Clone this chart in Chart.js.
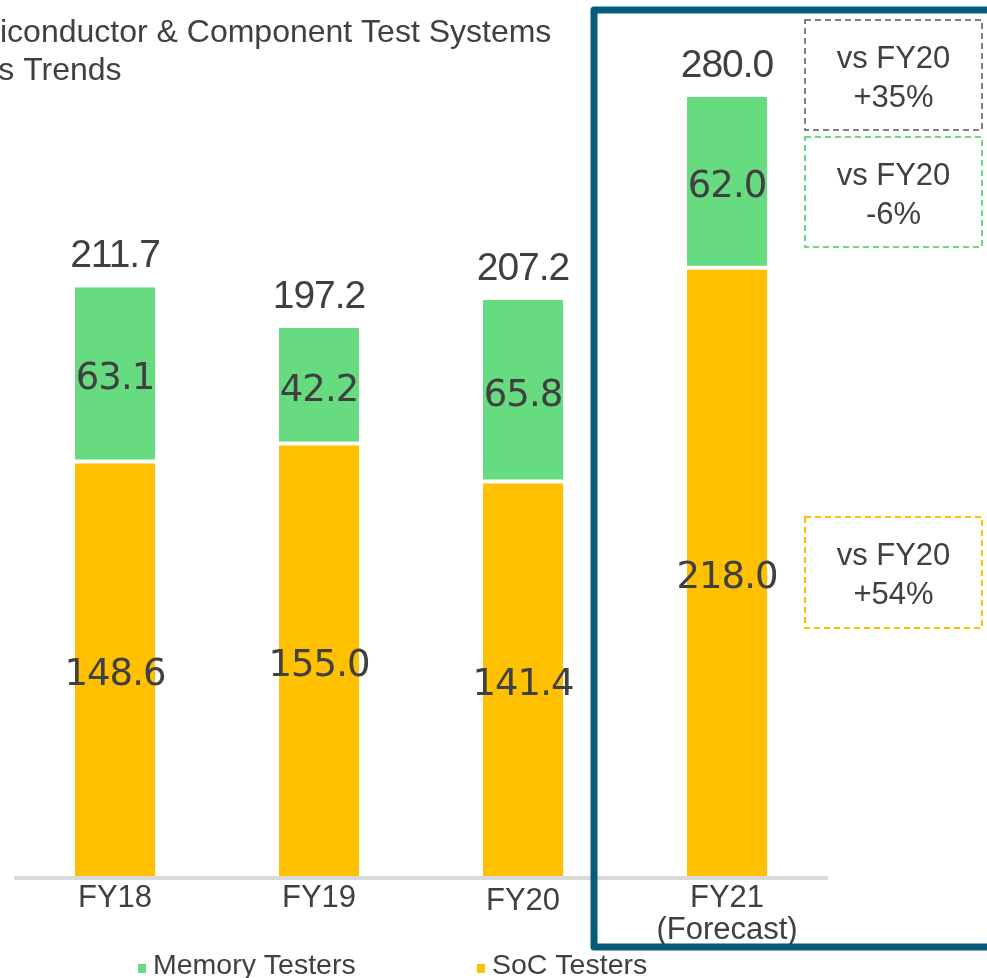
<!DOCTYPE html>
<html lang="en">
<head>
  <meta charset="UTF-8" />
  <title>Semiconductor & Component Test Systems Sales Trends</title>
  <style>
    html, body { margin: 0; padding: 0; background: #fff; overflow: hidden; }
    #wrap { width: 987px; height: 978px; position: relative; }
  </style>
</head>
<body>
  <div id="wrap"><canvas id="salesChart" width="987" height="978"></canvas></div>

  <script src="https://cdn.jsdelivr.net/npm/chart.js"></script>
  <script>
    // data
    const years = ['FY18', 'FY19', 'FY20', 'FY21'];
    const yearLabels = [['FY18'], ['FY19'], ['FY20'], ['FY21', '(Forecast)']];
    const socTesters = [148.6, 155.0, 141.4, 218.0];
    const memoryTesters = [63.1, 42.2, 65.8, 62.0];
    const totals = [211.7, 197.2, 207.2, 280.0];
    const compareNotes = [
      { lines: ['vs FY20', '+35%'], color: '#7f7f7f' },
      { lines: ['vs FY20', '-6%'], color: '#66db80' },
      { lines: ['vs FY20', '+54%'], color: '#ffc000' }
    ];

    const TEXT = '#404040';
    const ORANGE = '#ffc000';
    const GREEN = '#66db80';
    const SANS = '"Liberation Sans", Arial, sans-serif';
    const DEJA = '"DejaVu Sans", Verdana, sans-serif';

    function text(ctx, str, x, y, font, align, spacing) {
      ctx.save();
      ctx.font = font;
      ctx.fillStyle = TEXT;
      ctx.textAlign = align || 'center';
      ctx.textBaseline = 'alphabetic';
      ctx.letterSpacing = spacing || '0px';
      ctx.fillText(str, x, y);
      ctx.restore();
    }

    const decorations = {
      id: 'decorations',
      afterDatasetsDraw(chart) {
        const ctx = chart.ctx;
        const x = chart.scales.x;
        const y = chart.scales.y;

        // base line
        ctx.save();
        ctx.strokeStyle = '#d9d9d9';
        ctx.lineWidth = 4;
        ctx.beginPath();
        ctx.moveTo(14, y.getPixelForValue(0));
        ctx.lineTo(828, y.getPixelForValue(0));
        ctx.stroke();
        ctx.restore();

        // values inside and above the bars
        years.forEach((yr, i) => {
          const cx = x.getPixelForValue(i);
          const b0 = y.getPixelForValue(0);
          const b1 = y.getPixelForValue(socTesters[i]);
          const b2 = y.getPixelForValue(socTesters[i] + memoryTesters[i]);
          text(ctx, socTesters[i].toFixed(1), cx, (b0 + b1) / 2 + 14, '37px ' + DEJA, 'center', '-1px');
          text(ctx, memoryTesters[i].toFixed(1), cx, (b1 + b2) / 2 + 14, '37px ' + DEJA, 'center', '-1px');
          text(ctx, totals[i].toFixed(1), cx, b2 - 20, '39px ' + SANS, 'center', '-1px');

          // category labels
          yearLabels[i].forEach((l, k) => {
            text(ctx, l, cx, 907 + (i === 2 ? 3 : 0) + k * 32, '31px ' + SANS);
          });
        });

        // title (left part runs off the picture)
        ctx.save();
        ctx.font = '32px ' + SANS;
        const off = ctx.measureText('Sem').width;
        ctx.restore();
        text(ctx, 'Semiconductor & Component Test Systems', -off, 42, '32px ' + SANS, 'left');
        text(ctx, 'Sales Trends', -off, 80, '32px ' + SANS, 'left');

        // forecast frame
        ctx.save();
        ctx.strokeStyle = '#075b7a';
        ctx.lineWidth = 7;
        ctx.lineJoin = 'round';
        ctx.strokeRect(594, 10, 420, 937);
        ctx.restore();

        // comparison boxes
        const boxes = [[805, 20, 177, 110], [805, 137, 177, 110], [805, 517, 177, 111]];
        compareNotes.forEach((n, k) => {
          const [bx, by, bw, bh] = boxes[k];
          ctx.save();
          ctx.strokeStyle = n.color;
          ctx.lineWidth = 2;
          ctx.setLineDash([6, 4]);
          ctx.strokeRect(bx, by, bw, bh);
          ctx.restore();
          text(ctx, n.lines[0], bx + bw / 2, by + 48, '31px ' + SANS);
          text(ctx, n.lines[1], bx + bw / 2, by + 87, '31px ' + SANS);
        });

        // legend
        const legend = [
          { label: 'Memory Testers', color: GREEN, x: 138 },
          { label: 'SoC Testers', color: ORANGE, x: 477 }
        ];
        legend.forEach(l => {
          ctx.fillStyle = l.color;
          ctx.fillRect(l.x, 964, 8, 9);
          text(ctx, l.label, l.x + 15, 974, '28.5px ' + SANS, 'left');
        });
      }
    };

    new Chart(document.getElementById('salesChart'), {
      type: 'bar',
      data: {
        labels: years,
        datasets: [
          {
            label: 'SoC Testers',
            data: socTesters,
            backgroundColor: ORANGE,
            borderWidth: 0
          },
          {
            label: 'Memory Testers',
            data: memoryTesters,
            backgroundColor: GREEN,
            borderColor: '#ffffff',
            borderWidth: { top: 0, left: 0, right: 0, bottom: 4 },
            borderSkipped: false
          }
        ]
      },
      options: {
        responsive: false,
        animation: false,
        events: [],
        layout: { padding: { top: 41, bottom: 100, left: 13, right: 158 } },
        datasets: { bar: { categoryPercentage: 1, barPercentage: 0.392 } },
        plugins: { legend: { display: false }, tooltip: { enabled: false } },
        scales: {
          x: { stacked: true, display: false },
          y: { stacked: true, display: false, min: 0, max: 300 }
        }
      },
      plugins: [decorations]
    });
  </script>
</body>
</html>
